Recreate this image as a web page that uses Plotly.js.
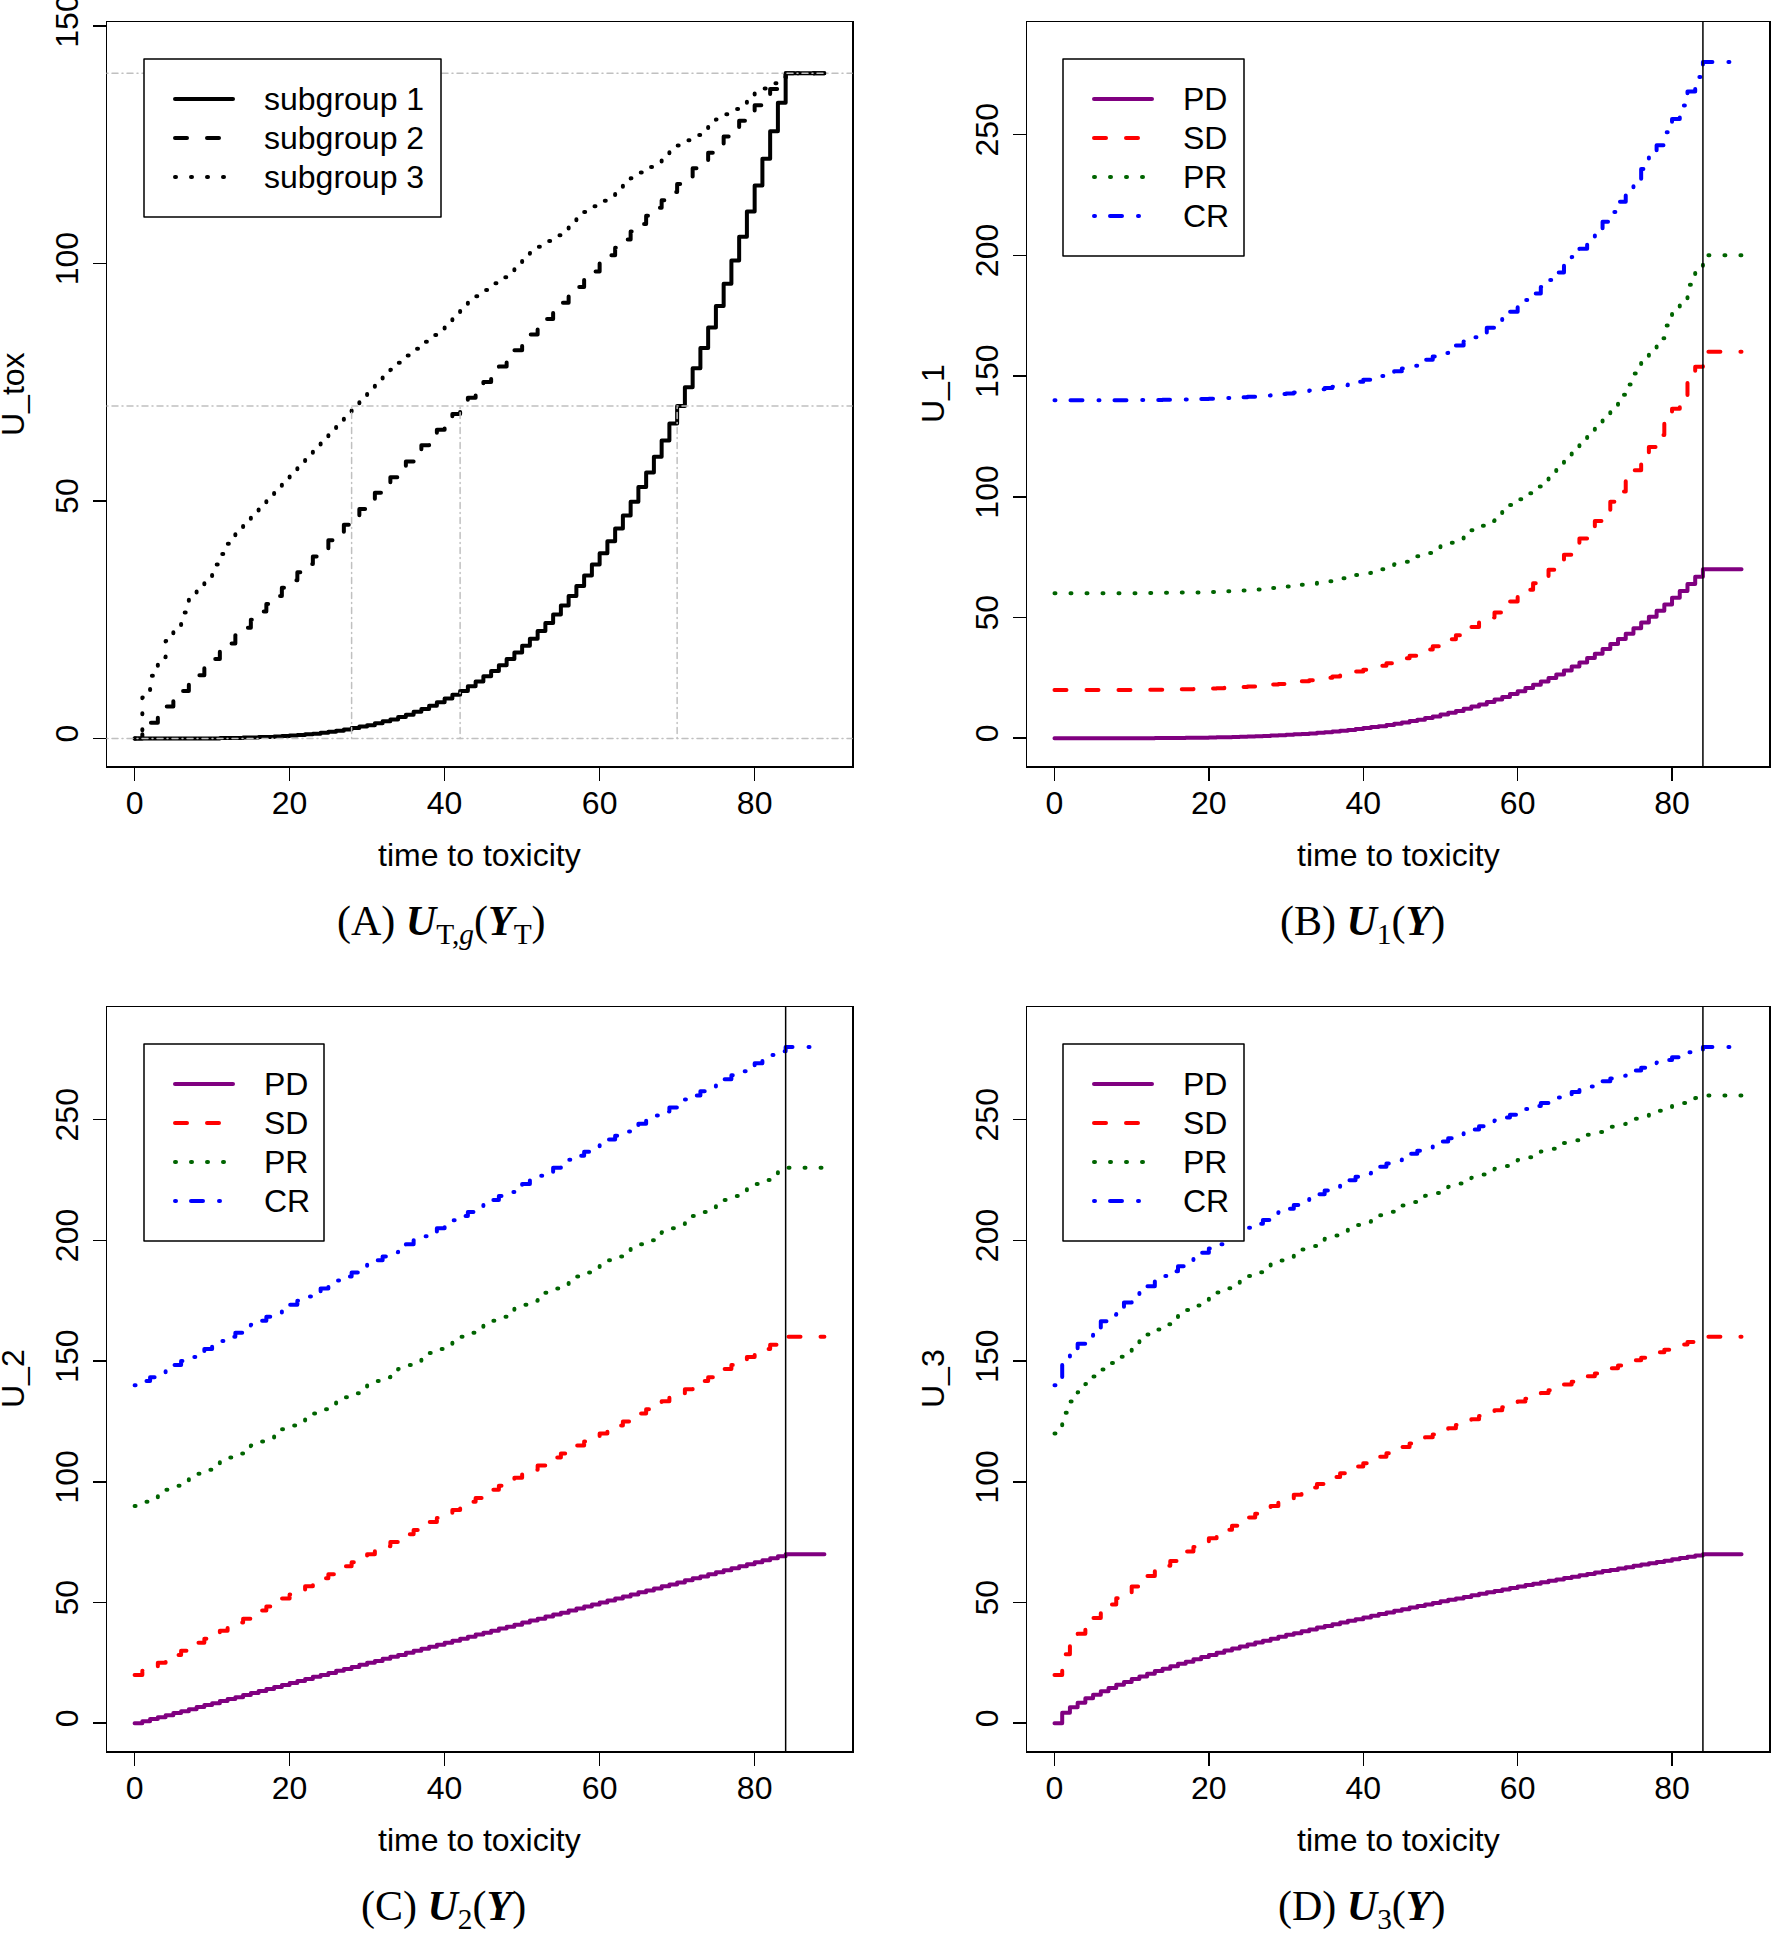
<!DOCTYPE html>
<html>
<head>
<meta charset="utf-8">
<script src="https://cdn.plot.ly/plotly-3.0.1.min.js"></script>
<style>
  body { margin: 0; background: #fff; }
  #chart { width: 1772px; height: 1933px; }
  /* R draws lines with round ends, plotly does not set a cap */
  .js-line, .shapelayer path { stroke-linecap: round; stroke-linejoin: round; }
</style>
</head>
<body>
<div id="chart"></div>
<script>
// time to toxicity (days); last point only carries the final value to the right edge
const days = [
  0, 1, 2, 3, 4, 5, 6, 7, 8, 9,
  10, 11, 12, 13, 14, 15, 16, 17, 18, 19,
  20, 21, 22, 23, 24, 25, 26, 27, 28, 29,
  30, 31, 32, 33, 34, 35, 36, 37, 38, 39,
  40, 41, 42, 43, 44, 45, 46, 47, 48, 49,
  50, 51, 52, 53, 54, 55, 56, 57, 58, 59,
  60, 61, 62, 63, 64, 65, 66, 67, 68, 69,
  70, 71, 72, 73, 74, 75, 76, 77, 78, 79,
  80, 81, 82, 83, 84, 89]

// (A) U_tox by subgroup
const sub1 = [
  0, 0, 0, 0, 0, 0, 0, 0, 0, 0,
  0, 0.1, 0.1, 0.1, 0.2, 0.2, 0.3, 0.3, 0.4, 0.5,
  0.6, 0.7, 0.9, 1.0, 1.2, 1.4, 1.6, 1.9, 2.2, 2.5,
  2.8, 3.2, 3.6, 4.0, 4.5, 5.0, 5.6, 6.2, 6.9, 7.6,
  8.4, 9.2, 10.0, 11.0, 12.0, 13.1, 14.2, 15.4, 16.7, 18.1,
  19.5, 21.0, 22.6, 24.3, 26.1, 28.0, 30.0, 32.1, 34.3, 36.6,
  39.0, 41.5, 44.2, 46.9, 49.8, 52.9, 56.0, 59.3, 62.7, 66.3,
  70.0, 73.9, 77.9, 82.2, 86.5, 91.0, 95.7, 100.6, 105.6, 110.9,
  116.4, 122.0, 127.8, 133.8, 140, 140]
const sub2 = [
  0, 1.7, 3.3, 5, 6.7, 8.3, 10, 11.7, 13.3, 15,
  16.7, 18.3, 20, 21.7, 23.3, 25, 26.7, 28.3, 30, 31.7,
  33.3, 35, 36.7, 38.3, 40, 41.7, 43.3, 45, 46.7, 48.3,
  50, 51.7, 53.3, 55, 56.7, 58.3, 60, 61.7, 63.3, 65,
  66.7, 68.3, 70, 71.7, 73.3, 75, 76.7, 78.3, 80, 81.7,
  83.3, 85, 86.7, 88.3, 90, 91.7, 93.3, 95, 96.7, 98.3,
  100, 101.7, 103.3, 105, 106.7, 108.3, 110, 111.7, 113.3, 115,
  116.7, 118.3, 120, 121.7, 123.3, 125, 126.7, 128.3, 130, 131.7,
  133.3, 135, 136.7, 138.3, 140, 140]
const sub3 = [
  0, 8.6, 13.2, 17.1, 20.5, 23.6, 26.5, 29.2, 31.8, 34.2,
  36.6, 38.8, 41.0, 43.1, 45.2, 47.2, 49.2, 51.1, 53.0, 54.8,
  56.6, 58.4, 60.1, 61.8, 63.5, 65.2, 66.8, 68.4, 70.0, 71.6,
  73.1, 74.6, 76.2, 77.6, 79.1, 80.6, 82.0, 83.5, 84.9, 86.3,
  87.7, 89.0, 90.4, 91.8, 93.1, 94.4, 95.8, 97.1, 98.4, 99.6,
  100.9, 102.2, 103.5, 104.7, 105.9, 107.2, 108.4, 109.6, 110.8, 112.0,
  113.2, 114.4, 115.6, 116.8, 117.9, 119.1, 120.3, 121.4, 122.5, 123.7,
  124.8, 125.9, 127.0, 128.1, 129.3, 130.3, 131.4, 132.5, 133.6, 134.7,
  135.8, 136.8, 137.9, 138.9, 140, 140]

// (B) U_1
const u1PD = [
  0, 0, 0, 0, 0, 0, 0, 0, 0, 0,
  0, 0, 0, 0.1, 0.1, 0.1, 0.1, 0.2, 0.2, 0.2,
  0.3, 0.4, 0.4, 0.5, 0.6, 0.7, 0.8, 0.9, 1.1, 1.2,
  1.4, 1.6, 1.8, 2.0, 2.3, 2.5, 2.8, 3.1, 3.4, 3.8,
  4.2, 4.6, 5.0, 5.5, 6.0, 6.5, 7.1, 7.7, 8.4, 9.0,
  9.8, 10.5, 11.3, 12.2, 13.1, 14.0, 15.0, 16.0, 17.1, 18.3,
  19.5, 20.8, 22.1, 23.5, 24.9, 26.4, 28.0, 29.7, 31.4, 33.2,
  35.0, 36.9, 39.0, 41.1, 43.3, 45.5, 47.9, 50.3, 52.8, 55.4,
  58.2, 61.0, 63.9, 66.9, 70, 70]
const u1SD = [
  20, 20, 20, 20, 20, 20, 20, 20, 20, 20,
  20, 20.1, 20.1, 20.1, 20.2, 20.2, 20.3, 20.3, 20.4, 20.5,
  20.6, 20.7, 20.9, 21.0, 21.2, 21.4, 21.6, 21.9, 22.2, 22.5,
  22.8, 23.2, 23.6, 24.0, 24.5, 25.0, 25.6, 26.2, 26.9, 27.6,
  28.4, 29.2, 30.0, 31.0, 32.0, 33.1, 34.2, 35.4, 36.7, 38.1,
  39.5, 41.0, 42.6, 44.3, 46.1, 48.0, 50.0, 52.1, 54.3, 56.6,
  59.0, 61.5, 64.2, 66.9, 69.8, 72.9, 76.0, 79.3, 82.7, 86.3,
  90.0, 93.9, 97.9, 102.2, 106.5, 111.0, 115.7, 120.6, 125.6, 130.9,
  136.4, 142.0, 147.8, 153.8, 160, 160]
const u1PR = [
  60, 60, 60, 60, 60, 60, 60, 60, 60, 60,
  60, 60.1, 60.1, 60.1, 60.2, 60.2, 60.3, 60.3, 60.4, 60.5,
  60.6, 60.7, 60.9, 61.0, 61.2, 61.4, 61.6, 61.9, 62.2, 62.5,
  62.8, 63.2, 63.6, 64.0, 64.5, 65.0, 65.6, 66.2, 66.9, 67.6,
  68.4, 69.2, 70.0, 71.0, 72.0, 73.1, 74.2, 75.4, 76.7, 78.1,
  79.5, 81.0, 82.6, 84.3, 86.1, 88.0, 90.0, 92.1, 94.3, 96.6,
  99.0, 101.5, 104.2, 106.9, 109.8, 112.9, 116.0, 119.3, 122.7, 126.3,
  130.0, 133.9, 137.9, 142.2, 146.5, 151.0, 155.7, 160.6, 165.6, 170.9,
  176.4, 182.0, 187.8, 193.8, 200, 200]
const u1CR = [
  140, 140, 140, 140, 140, 140, 140, 140, 140, 140,
  140, 140.1, 140.1, 140.1, 140.2, 140.2, 140.3, 140.3, 140.4, 140.5,
  140.6, 140.7, 140.9, 141.0, 141.2, 141.4, 141.6, 141.9, 142.2, 142.5,
  142.8, 143.2, 143.6, 144.0, 144.5, 145.0, 145.6, 146.2, 146.9, 147.6,
  148.4, 149.2, 150.0, 151.0, 152.0, 153.1, 154.2, 155.4, 156.7, 158.1,
  159.5, 161.0, 162.6, 164.3, 166.1, 168.0, 170.0, 172.1, 174.3, 176.6,
  179.0, 181.5, 184.2, 186.9, 189.8, 192.9, 196.0, 199.3, 202.7, 206.3,
  210.0, 213.9, 217.9, 222.2, 226.5, 231.0, 235.7, 240.6, 245.6, 250.9,
  256.4, 262.0, 267.8, 273.8, 280, 280]

// (C) U_2
const u2PD = [
  0, 0.8, 1.7, 2.5, 3.3, 4.2, 5, 5.8, 6.7, 7.5,
  8.3, 9.2, 10, 10.8, 11.7, 12.5, 13.3, 14.2, 15, 15.8,
  16.7, 17.5, 18.3, 19.2, 20, 20.8, 21.7, 22.5, 23.3, 24.2,
  25, 25.8, 26.7, 27.5, 28.3, 29.2, 30, 30.8, 31.7, 32.5,
  33.3, 34.2, 35, 35.8, 36.7, 37.5, 38.3, 39.2, 40, 40.8,
  41.7, 42.5, 43.3, 44.2, 45, 45.8, 46.7, 47.5, 48.3, 49.2,
  50, 50.8, 51.7, 52.5, 53.3, 54.2, 55, 55.8, 56.7, 57.5,
  58.3, 59.2, 60, 60.8, 61.7, 62.5, 63.3, 64.2, 65, 65.8,
  66.7, 67.5, 68.3, 69.2, 70, 70]
const u2SD = [
  20, 21.7, 23.3, 25, 26.7, 28.3, 30, 31.7, 33.3, 35,
  36.7, 38.3, 40, 41.7, 43.3, 45, 46.7, 48.3, 50, 51.7,
  53.3, 55, 56.7, 58.3, 60, 61.7, 63.3, 65, 66.7, 68.3,
  70, 71.7, 73.3, 75, 76.7, 78.3, 80, 81.7, 83.3, 85,
  86.7, 88.3, 90, 91.7, 93.3, 95, 96.7, 98.3, 100, 101.7,
  103.3, 105, 106.7, 108.3, 110, 111.7, 113.3, 115, 116.7, 118.3,
  120, 121.7, 123.3, 125, 126.7, 128.3, 130, 131.7, 133.3, 135,
  136.7, 138.3, 140, 141.7, 143.3, 145, 146.7, 148.3, 150, 151.7,
  153.3, 155, 156.7, 158.3, 160, 160]
const u2PR = [
  90, 91.7, 93.3, 95, 96.7, 98.3, 100, 101.7, 103.3, 105,
  106.7, 108.3, 110, 111.7, 113.3, 115, 116.7, 118.3, 120, 121.7,
  123.3, 125, 126.7, 128.3, 130, 131.7, 133.3, 135, 136.7, 138.3,
  140, 141.7, 143.3, 145, 146.7, 148.3, 150, 151.7, 153.3, 155,
  156.7, 158.3, 160, 161.7, 163.3, 165, 166.7, 168.3, 170, 171.7,
  173.3, 175, 176.7, 178.3, 180, 181.7, 183.3, 185, 186.7, 188.3,
  190, 191.7, 193.3, 195, 196.7, 198.3, 200, 201.7, 203.3, 205,
  206.7, 208.3, 210, 211.7, 213.3, 215, 216.7, 218.3, 220, 221.7,
  223.3, 225, 226.7, 228.3, 230, 230]
const u2CR = [
  140, 141.7, 143.3, 145, 146.7, 148.3, 150, 151.7, 153.3, 155,
  156.7, 158.3, 160, 161.7, 163.3, 165, 166.7, 168.3, 170, 171.7,
  173.3, 175, 176.7, 178.3, 180, 181.7, 183.3, 185, 186.7, 188.3,
  190, 191.7, 193.3, 195, 196.7, 198.3, 200, 201.7, 203.3, 205,
  206.7, 208.3, 210, 211.7, 213.3, 215, 216.7, 218.3, 220, 221.7,
  223.3, 225, 226.7, 228.3, 230, 231.7, 233.3, 235, 236.7, 238.3,
  240, 241.7, 243.3, 245, 246.7, 248.3, 250, 251.7, 253.3, 255,
  256.7, 258.3, 260, 261.7, 263.3, 265, 266.7, 268.3, 270, 271.7,
  273.3, 275, 276.7, 278.3, 280, 280]

// (D) U_3
const u3PD = [
  0, 4.3, 6.6, 8.5, 10.3, 11.8, 13.2, 14.6, 15.9, 17.1,
  18.3, 19.4, 20.5, 21.6, 22.6, 23.6, 24.6, 25.5, 26.5, 27.4,
  28.3, 29.2, 30.1, 30.9, 31.8, 32.6, 33.4, 34.2, 35.0, 35.8,
  36.6, 37.3, 38.1, 38.8, 39.6, 40.3, 41.0, 41.7, 42.4, 43.1,
  43.8, 44.5, 45.2, 45.9, 46.6, 47.2, 47.9, 48.5, 49.2, 49.8,
  50.5, 51.1, 51.7, 52.3, 53.0, 53.6, 54.2, 54.8, 55.4, 56.0,
  56.6, 57.2, 57.8, 58.4, 59.0, 59.5, 60.1, 60.7, 61.3, 61.8,
  62.4, 63.0, 63.5, 64.1, 64.6, 65.2, 65.7, 66.3, 66.8, 67.3,
  67.9, 68.4, 68.9, 69.5, 70, 70]
const u3SD = [
  20, 28.6, 33.2, 37.1, 40.5, 43.6, 46.5, 49.2, 51.8, 54.2,
  56.6, 58.8, 61.0, 63.1, 65.2, 67.2, 69.2, 71.1, 73.0, 74.8,
  76.6, 78.4, 80.1, 81.8, 83.5, 85.2, 86.8, 88.4, 90.0, 91.6,
  93.1, 94.6, 96.2, 97.6, 99.1, 100.6, 102.0, 103.5, 104.9, 106.3,
  107.7, 109.0, 110.4, 111.8, 113.1, 114.4, 115.8, 117.1, 118.4, 119.6,
  120.9, 122.2, 123.5, 124.7, 125.9, 127.2, 128.4, 129.6, 130.8, 132.0,
  133.2, 134.4, 135.6, 136.8, 137.9, 139.1, 140.3, 141.4, 142.5, 143.7,
  144.8, 145.9, 147.0, 148.1, 149.3, 150.3, 151.4, 152.5, 153.6, 154.7,
  155.8, 156.8, 157.9, 158.9, 160, 160]
const u3PR = [
  120, 128.6, 133.2, 137.1, 140.5, 143.6, 146.5, 149.2, 151.8, 154.2,
  156.6, 158.8, 161.0, 163.1, 165.2, 167.2, 169.2, 171.1, 173.0, 174.8,
  176.6, 178.4, 180.1, 181.8, 183.5, 185.2, 186.8, 188.4, 190.0, 191.6,
  193.1, 194.6, 196.2, 197.6, 199.1, 200.6, 202.0, 203.5, 204.9, 206.3,
  207.7, 209.0, 210.4, 211.8, 213.1, 214.4, 215.8, 217.1, 218.4, 219.6,
  220.9, 222.2, 223.5, 224.7, 225.9, 227.2, 228.4, 229.6, 230.8, 232.0,
  233.2, 234.4, 235.6, 236.8, 237.9, 239.1, 240.3, 241.4, 242.5, 243.7,
  244.8, 245.9, 247.0, 248.1, 249.3, 250.3, 251.4, 252.5, 253.6, 254.7,
  255.8, 256.8, 257.9, 258.9, 260, 260]
const u3CR = [
  140, 148.6, 153.2, 157.1, 160.5, 163.6, 166.5, 169.2, 171.8, 174.2,
  176.6, 178.8, 181.0, 183.1, 185.2, 187.2, 189.2, 191.1, 193.0, 194.8,
  196.6, 198.4, 200.1, 201.8, 203.5, 205.2, 206.8, 208.4, 210.0, 211.6,
  213.1, 214.6, 216.2, 217.6, 219.1, 220.6, 222.0, 223.5, 224.9, 226.3,
  227.7, 229.0, 230.4, 231.8, 233.1, 234.4, 235.8, 237.1, 238.4, 239.6,
  240.9, 242.2, 243.5, 244.7, 245.9, 247.2, 248.4, 249.6, 250.8, 252.0,
  253.2, 254.4, 255.6, 256.8, 257.9, 259.1, 260.3, 261.4, 262.5, 263.7,
  264.8, 265.9, 267.0, 268.1, 269.3, 270.3, 271.4, 272.5, 273.6, 274.7,
  275.8, 276.8, 277.9, 278.9, 280, 280]

// reference lines
const toxLevels = [0, 70, 140]      // horizontal guides in (A)
const toxTimes = [28, 42, 70]       // time at which each subgroup reaches 70
const toxMid = 70
const cutoffDay = 84                // vertical line in (B)-(D)

const groupNames = ['subgroup 1', 'subgroup 2', 'subgroup 3']
const respNames = ['PD', 'SD', 'PR', 'CR']
const xTicks = [0, 20, 40, 60, 80]
const yTicksTox = [0, 50, 100, 150]
const yTicksU = [0, 50, 100, 150, 200, 250]

const W = 1772
const H = 1933
const SANS = 'Liberation Sans, Arial, Helvetica, sans-serif'
const SERIF = 'Liberation Serif, Times New Roman, serif'

const DASH = {
  solid: 'solid',
  dash: '12px,20px',
  dot: '1px,15px',
  dotdash: '1px,15px,12px,16px',
}
const respColors = ['#800080', '#ff0000', '#006400', '#0000ff']
const respDash = [DASH.solid, DASH.dash, DASH.dot, DASH.dotdash]
const groupDash = [DASH.solid, DASH.dash, DASH.dot]

// pixel boxes of each panel: [left, top, right, bottom]
const panels = [
  { ax: '', box: [107, 22, 852, 766], legend: [144, 59, 441, 217],
    names: groupNames, ys: [sub1, sub2, sub3],
    colors: ['black', 'black', 'black'], dashes: groupDash,
    ytitle: 'U_tox', caption: '(A) <b><i>U</i></b><sub>T,<i>g</i></sub>(<b><i>Y</i></b><sub>T</sub>)',
    capX: 441, tox: true },
  { ax: '2', box: [1027, 22, 1769, 766], legend: [1063, 59, 1244, 256],
    names: respNames, ys: [u1PD, u1SD, u1PR, u1CR],
    colors: respColors, dashes: respDash,
    ytitle: 'U_1', caption: '(B) <b><i>U</i></b><sub>1</sub>(<b><i>Y</i></b>)', capX: 1362 },
  { ax: '3', box: [107, 1007, 852, 1751], legend: [144, 1044, 324, 1241],
    names: respNames, ys: [u2PD, u2SD, u2PR, u2CR],
    colors: respColors, dashes: respDash,
    ytitle: 'U_2', caption: '(C) <b><i>U</i></b><sub>2</sub>(<b><i>Y</i></b>)', capX: 443 },
  { ax: '4', box: [1027, 1007, 1769, 1751], legend: [1063, 1044, 1244, 1241],
    names: respNames, ys: [u3PD, u3SD, u3PR, u3CR],
    colors: respColors, dashes: respDash,
    ytitle: 'U_3', caption: '(D) <b><i>U</i></b><sub>3</sub>(<b><i>Y</i></b>)', capX: 1362 },
]

const px = (v) => v / W
const py = (v) => 1 - v / H

const axisBase = {
  showline: true,
  mirror: true,
  linecolor: 'black',
  linewidth: 1.5,
  ticks: 'outside',
  ticklen: 13,
  tickwidth: 1.5,
  tickcolor: 'black',
  showgrid: false,
  zeroline: false,
  tickfont: { family: SANS, size: 32, color: 'black' },
  ticklabeloverflow: 'allow',
  fixedrange: true,
}

const traces = []
const shapes = []
const annotations = []
const layout = {
  width: W,
  height: H,
  margin: { l: 0, r: 0, t: 0, b: 0 },
  paper_bgcolor: 'white',
  plot_bgcolor: 'white',
  showlegend: false,
}

panels.forEach((p) => {
  const xa = 'x' + p.ax
  const ya = 'y' + p.ax
  const [l, t, r, b] = p.box

  layout['xaxis' + p.ax] = Object.assign({}, axisBase, {
    domain: [px(l), px(r)],
    anchor: ya,
    range: [-3.56, 92.56],
    tickvals: xTicks,
    ticklabelstandoff: -5,
  })
  layout['yaxis' + p.ax] = Object.assign({}, axisBase, {
    domain: [py(b), py(t)],
    anchor: xa,
    range: p.tox ? [-5.8, 150.8] : [-11.5, 296.6],
    tickvals: p.tox ? yTicksTox : yTicksU,
    tickangle: -90,
    ticklabelstandoff: 2,
  })

  p.ys.forEach((y, i) => {
    traces.push({
      x: days,
      y: y,
      xaxis: xa,
      yaxis: ya,
      type: 'scatter',
      mode: 'lines',
      name: p.names[i],
      line: { shape: 'hv', color: p.colors[i], width: 4, dash: p.dashes[i] },
      hoverinfo: 'skip',
    })
  })

  if (p.tox) {
    toxLevels.forEach((lv) => shapes.push({
      type: 'line', xref: xa + ' domain', yref: ya, x0: 0, x1: 1, y0: lv, y1: lv,
      line: { color: '#c0c0c0', width: 1.5, dash: '1px,4px,6px,4px' },
    }))
    toxTimes.forEach((tm) => shapes.push({
      type: 'line', xref: xa, yref: ya, x0: tm, x1: tm, y0: 0, y1: toxMid,
      line: { color: '#c0c0c0', width: 1.5, dash: '1px,4px,6px,4px' },
    }))
  } else {
    shapes.push({
      type: 'line', xref: xa, yref: ya + ' domain', x0: cutoffDay, x1: cutoffDay, y0: 0, y1: 1,
      line: { color: 'black', width: 1.5 },
    })
  }

  // legend box drawn the way R's legend() lays it out
  const [ll, lt, lr, lb] = p.legend
  shapes.push({
    type: 'rect', xref: 'paper', yref: 'paper',
    x0: px(ll), x1: px(lr), y0: py(lb), y1: py(lt),
    line: { color: 'black', width: 1.5 }, fillcolor: 'white',
  })
  p.names.forEach((nm, i) => {
    const yc = lt + 40 + 39 * i
    shapes.push({
      type: 'line', xref: 'paper', yref: 'paper',
      x0: px(ll + 31), x1: px(ll + 89), y0: py(yc), y1: py(yc),
      line: { color: p.colors[i], width: 4, dash: p.dashes[i] },
    })
    annotations.push({
      xref: 'paper', yref: 'paper', x: px(ll + 118), y: py(yc),
      xanchor: 'left', yanchor: 'middle', showarrow: false,
      text: nm, font: { family: SANS, size: 32, color: 'black' },
    })
  })

  // axis titles and panel caption
  annotations.push({
    xref: 'paper', yref: 'paper', x: px((l + r) / 2), y: py(b + 89),
    xanchor: 'center', yanchor: 'middle', showarrow: false,
    text: 'time to toxicity', font: { family: SANS, size: 32, color: 'black' },
  })
  annotations.push({
    xref: 'paper', yref: 'paper', x: px(l - 94), y: py((t + b) / 2),
    xanchor: 'center', yanchor: 'middle', showarrow: false, textangle: -90,
    text: p.ytitle, font: { family: SANS, size: 32, color: 'black' },
  })
  annotations.push({
    xref: 'paper', yref: 'paper', x: px(p.capX), y: py(b + 158),
    xanchor: 'center', yanchor: 'middle', showarrow: false,
    text: p.caption, font: { family: SERIF, size: 42, color: 'black' },
  })
})

layout.shapes = shapes
layout.annotations = annotations

try {
  Plotly.newPlot('chart', traces, layout, { staticPlot: true })
} catch (e) {
  console.log('ERR', e)
}
</script>
</body>
</html>
